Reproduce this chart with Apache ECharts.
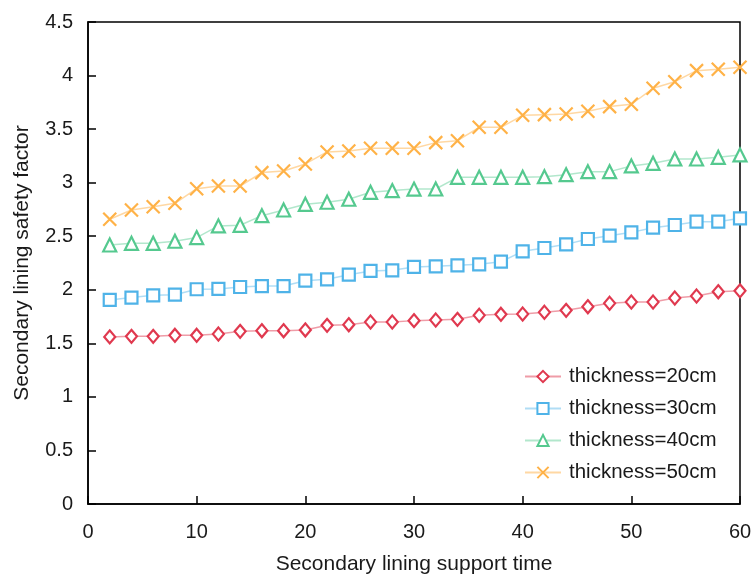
<!DOCTYPE html>
<html>
<head>
<meta charset="utf-8">
<script src="https://cdn.jsdelivr.net/npm/echarts@6/dist/echarts.min.js"></script>
<style>html,body{margin:0;padding:0;background:#fff;}#c{width:753px;height:574px;}</style>
</head>
<body>
<div id="c"></div>
<script>
const times = [2,4,6,8,10,12,14,16,18,20,22,24,26,28,30,32,34,36,38,40,42,44,46,48,50,52,54,56,58,60];
const t20 = [1.56,1.565,1.565,1.575,1.575,1.587,1.612,1.618,1.618,1.625,1.668,1.674,1.699,1.699,1.712,1.718,1.724,1.762,1.771,1.774,1.79,1.808,1.842,1.874,1.886,1.886,1.923,1.942,1.982,1.99];
const t30 = [1.905,1.927,1.948,1.954,2.005,2.008,2.026,2.035,2.035,2.085,2.098,2.141,2.176,2.182,2.213,2.219,2.228,2.238,2.262,2.359,2.39,2.424,2.474,2.505,2.536,2.58,2.605,2.636,2.636,2.667];
const t40 = [2.418,2.434,2.434,2.453,2.487,2.596,2.602,2.692,2.745,2.798,2.817,2.845,2.91,2.926,2.94,2.941,3.05,3.05,3.05,3.05,3.056,3.075,3.103,3.103,3.156,3.181,3.221,3.221,3.237,3.259];
const t50 = [2.658,2.745,2.776,2.807,2.944,2.969,2.969,3.094,3.109,3.175,3.287,3.296,3.321,3.321,3.321,3.374,3.392,3.517,3.517,3.629,3.635,3.641,3.666,3.71,3.732,3.881,3.943,4.046,4.058,4.077];
const seriesNames = ['thickness=20cm','thickness=30cm','thickness=40cm','thickness=50cm'];

const pair = arr => times.map((t,i)=>[t,arr[i]]);
const font = 'Liberation Sans, Arial, sans-serif';
const styles = [
  {c:'#e0394f', l:'rgba(224,57,79,0.5)', sym:'diamond', size:[11,13]},
  {c:'#4fb3e8', l:'rgba(79,179,232,0.45)', sym:'rect', size:12},
  {c:'#55c98f', l:'rgba(85,201,143,0.45)', sym:'triangle', size:13},
  {c:'#ffb247', l:'rgba(255,178,71,0.5)', sym:'path://M0,0 L10,10 M10,0 L0,10', size:13}
];
const datas = [t20,t30,t40,t50];
const chart = echarts.init(document.getElementById('c'), null, {renderer:'canvas'});
chart.setOption({
  animation:false,
  backgroundColor:'#fff',
  grid:{left:88,right:13,top:22,bottom:70,containLabel:false,outerBoundsMode:'none',show:true,borderColor:'#000',borderWidth:1.5,backgroundColor:'transparent'},
  legend:{
    left:524, top:366, orient:'vertical', itemGap:11, itemWidth:36, itemHeight:14, padding:0,
    textStyle:{fontFamily:font,fontSize:20.5,color:'#1a1a1a',padding:[0,0,0,3]},
    data:seriesNames
  },
  xAxis:{
    type:'value', min:0, max:60, interval:10,
    name:'Secondary lining support time', nameLocation:'middle', nameGap:50,
    nameTextStyle:{fontFamily:font,fontSize:21,color:'#1a1a1a'},
    axisLine:{lineStyle:{color:'#000',width:1.5}},
    axisTick:{inside:true,length:8,lineStyle:{color:'#000',width:1.5}},
    axisLabel:{fontFamily:font,fontSize:20,color:'#1a1a1a',margin:18},
    splitLine:{show:false}
  },
  yAxis:{
    type:'value', min:0, max:4.5, interval:0.5,
    name:'Secondary lining safety factor', nameLocation:'middle', nameGap:55,
    nameTextStyle:{fontFamily:font,fontSize:21,color:'#1a1a1a'},
    axisLine:{lineStyle:{color:'#000',width:1.5}},
    axisTick:{inside:true,length:8,lineStyle:{color:'#000',width:1.5}},
    axisLabel:{fontFamily:font,fontSize:20,color:'#1a1a1a',margin:15},
    splitLine:{show:false}
  },
  series: datas.map((d,i)=>({
    name:seriesNames[i], type:'line', data:pair(d),
    symbol:styles[i].sym, symbolSize:styles[i].size, showSymbol:true,
    lineStyle:{color:styles[i].l,width:1.5},
    itemStyle:{color:'#fff',borderColor:styles[i].c,borderWidth:2.2},
    z: 2+i
  }))
});
</script>
</body>
</html>
